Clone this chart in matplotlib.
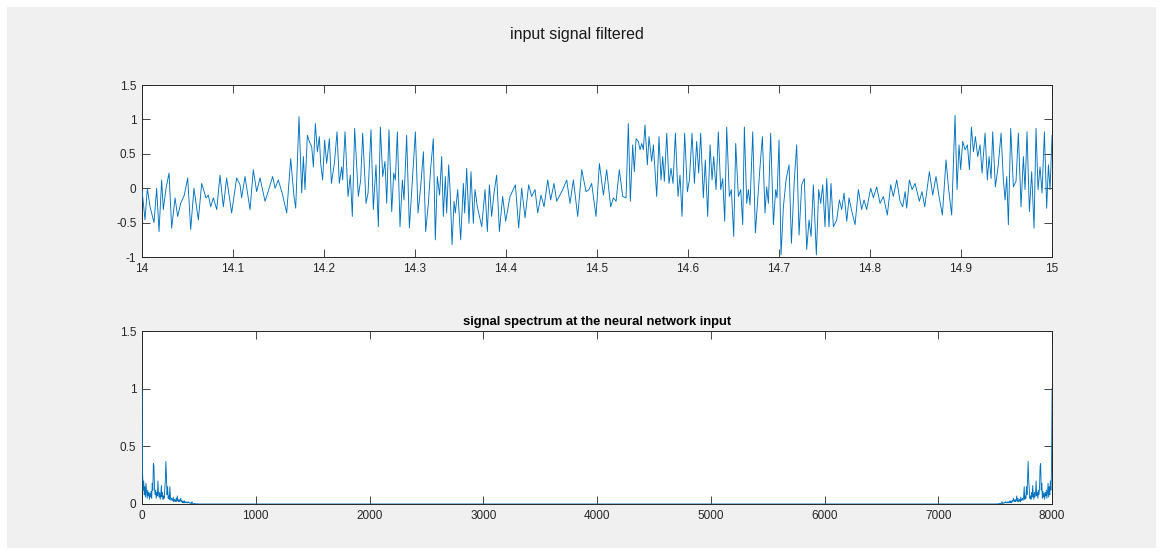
import numpy as np
import matplotlib
matplotlib.use("Agg")
import matplotlib.pyplot as plt
from matplotlib.patches import Rectangle

plt.rcParams["font.family"] = ["Liberation Sans", "DejaVu Sans"]

BLUE = "#0072BD"
AXIS_GRAY = "#262626"

# filtered input signal (seconds after t=14, amplitude)
sig_t = [
    0.0000, 0.0033, 0.0059, 0.0088, 0.0132, 0.0161, 0.0187, 0.0216, 0.0234, 0.0264,
    0.0297, 0.0326, 0.0363, 0.0392, 0.0425, 0.0465, 0.0502, 0.0535, 0.0571, 0.0619,
    0.0656, 0.0703, 0.0729, 0.0755, 0.0784, 0.0821, 0.0857, 0.0894, 0.0930, 0.0985,
    0.1040, 0.1077, 0.1095, 0.1132, 0.1187, 0.1223, 0.1260, 0.1297, 0.1352, 0.1381,
    0.1436, 0.1462, 0.1498, 0.1546, 0.1590, 0.1634, 0.1670, 0.1689, 0.1725, 0.1755,
    0.1773, 0.1791, 0.1817, 0.1839, 0.1865, 0.1883, 0.1905, 0.1927, 0.1949, 0.1963,
    0.1985, 0.2007, 0.2029, 0.2059, 0.2081, 0.2114, 0.2143, 0.2168, 0.2194, 0.2205,
    0.2231, 0.2264, 0.2289, 0.2311, 0.2337, 0.2377, 0.2403, 0.2425, 0.2462, 0.2484,
    0.2516, 0.2542, 0.2571, 0.2597, 0.2619, 0.2645, 0.2670, 0.2689, 0.2714, 0.2744,
    0.2766, 0.2784, 0.2806, 0.2835, 0.2861, 0.2879, 0.2908, 0.2938, 0.2974, 0.3004,
    0.3033, 0.3062, 0.3092, 0.3117, 0.3147, 0.3172, 0.3201, 0.3223, 0.3245, 0.3270,
    0.3293, 0.3311, 0.3333, 0.3348, 0.3370, 0.3385, 0.3407, 0.3429, 0.3443, 0.3469,
    0.3502, 0.3531, 0.3546, 0.3568, 0.3593, 0.3615, 0.3641, 0.3659, 0.3685, 0.3733,
    0.3769, 0.3795, 0.3817, 0.3842, 0.3868, 0.3897, 0.3927, 0.3963, 0.3996, 0.4044,
    0.4103, 0.4139, 0.4172, 0.4209, 0.4249, 0.4282, 0.4319, 0.4348, 0.4385, 0.4418,
    0.4458, 0.4491, 0.4527, 0.4557, 0.4623, 0.4667, 0.4703, 0.4740, 0.4788, 0.4832,
    0.4879, 0.4912, 0.4941, 0.4989, 0.5026, 0.5070, 0.5106, 0.5150, 0.5179, 0.5209,
    0.5245, 0.5282, 0.5319, 0.5344, 0.5366, 0.5392, 0.5410, 0.5429, 0.5454, 0.5473,
    0.5491, 0.5509, 0.5527, 0.5553, 0.5571, 0.5601, 0.5619, 0.5656, 0.5681, 0.5703,
    0.5722, 0.5740, 0.5766, 0.5791, 0.5813, 0.5835, 0.5861, 0.5890, 0.5912, 0.5934,
    0.5963, 0.5993, 0.6015, 0.6044, 0.6070, 0.6095, 0.6117, 0.6139, 0.6168, 0.6190,
    0.6216, 0.6242, 0.6264, 0.6282, 0.6308, 0.6333, 0.6359, 0.6381, 0.6403, 0.6425,
    0.6454, 0.6476, 0.6502, 0.6524, 0.6553, 0.6579, 0.6601, 0.6619, 0.6645, 0.6663,
    0.6681, 0.6711, 0.6740, 0.6773, 0.6791, 0.6817, 0.6846, 0.6864, 0.6883, 0.6908,
    0.6938, 0.6963, 0.6978, 0.7000, 0.7022, 0.7048, 0.7077, 0.7110, 0.7136, 0.7168,
    0.7194, 0.7220, 0.7249, 0.7278, 0.7304, 0.7330, 0.7352, 0.7377, 0.7410, 0.7436,
    0.7458, 0.7480, 0.7505, 0.7524, 0.7549, 0.7571, 0.7597, 0.7634, 0.7663, 0.7689,
    0.7714, 0.7744, 0.7769, 0.7795, 0.7835, 0.7872, 0.7908, 0.7934, 0.7963, 0.8007,
    0.8037, 0.8073, 0.8110, 0.8147, 0.8190, 0.8227, 0.8256, 0.8293, 0.8330, 0.8359,
    0.8385, 0.8403, 0.8432, 0.8462, 0.8495, 0.8542, 0.8571, 0.8601, 0.8652, 0.8689,
    0.8725, 0.8758, 0.8795, 0.8835, 0.8864, 0.8897, 0.8934, 0.8956, 0.8978, 0.8996,
    0.9018, 0.9044, 0.9070, 0.9092, 0.9114, 0.9136, 0.9158, 0.9183, 0.9209, 0.9231,
    0.9264, 0.9289, 0.9308, 0.9330, 0.9348, 0.9377, 0.9407, 0.9440, 0.9465, 0.9484,
    0.9502, 0.9520, 0.9546, 0.9575, 0.9604, 0.9630, 0.9659, 0.9685, 0.9703, 0.9725,
    0.9751, 0.9776, 0.9802, 0.9824, 0.9846, 0.9868, 0.9890, 0.9916, 0.9941, 0.9960,
    0.9978, 1.0000,
]
sig_v = [
    -0.02, -0.46, 0.00, -0.27, -0.50, 0.00, -0.63, 0.12, -0.31, 0.00,
    0.22, -0.58, -0.14, -0.41, -0.22, -0.10, 0.15, -0.60, 0.00, -0.46,
    0.07, -0.14, -0.10, -0.27, -0.14, -0.31, 0.19, -0.27, 0.15, -0.36,
    0.15, 0.05, -0.14, 0.17, -0.31, 0.27, -0.05, 0.15, -0.19, -0.07,
    0.17, 0.00, 0.12, -0.10, -0.36, 0.43, -0.12, -0.29, 1.04, -0.07,
    0.46, -0.02, 0.77, 0.68, 0.60, 0.31, 0.94, 0.53, 0.75, 0.36,
    0.12, 0.70, 0.36, 0.72, 0.07, 0.36, 0.82, 0.07, 0.31, 0.12,
    0.82, -0.12, 0.19, -0.41, 0.87, -0.12, 0.12, 0.80, -0.22, -0.07,
    0.85, -0.31, 0.34, -0.56, 0.89, 0.17, 0.39, -0.22, 0.85, -0.34,
    0.22, 0.12, 0.82, -0.56, 0.12, -0.17, 0.77, -0.58, 0.17, 0.82,
    -0.36, 0.02, 0.53, -0.63, -0.22, 0.29, 0.72, -0.75, 0.17, -0.10,
    0.46, -0.41, 0.17, -0.36, 0.34, -0.02, -0.82, -0.19, -0.36, -0.02,
    -0.75, 0.07, -0.36, 0.29, -0.51, 0.24, -0.51, -0.02, -0.27, -0.56,
    -0.02, -0.63, 0.05, -0.41, -0.07, 0.19, -0.63, -0.12, -0.48, -0.12,
    0.05, -0.58, 0.00, -0.43, 0.05, -0.12, -0.02, -0.36, -0.10, -0.27,
    0.12, -0.17, 0.07, -0.19, -0.02, 0.12, -0.22, 0.12, -0.41, 0.27,
    -0.05, -0.02, 0.07, -0.41, 0.36, -0.10, 0.27, -0.27, -0.14, -0.19,
    0.27, -0.12, -0.14, 0.94, -0.19, 0.63, 0.24, 0.72, 0.68, 0.56,
    0.65, 0.56, 0.92, 0.34, 0.75, 0.39, 0.63, -0.12, 0.75, 0.12,
    0.46, 0.10, 0.80, 0.07, 0.29, 0.07, 0.80, -0.12, 0.19, -0.41,
    0.80, -0.05, 0.12, 0.80, 0.07, 0.68, 0.22, 0.80, -0.14, 0.41,
    -0.41, 0.63, 0.12, 0.46, -0.02, 0.82, -0.02, 0.14, -0.48, 0.89,
    -0.12, -0.02, -0.70, 0.65, -0.12, -0.02, -0.53, 0.89, -0.22, -0.02,
    -0.24, 0.82, -0.65, -0.02, 0.31, 0.75, -0.36, 0.02, -0.22, 0.80,
    -0.53, -0.02, -0.14, 0.70, -0.97, -0.27, 0.12, 0.34, -0.80, 0.12,
    0.63, -0.68, 0.05, 0.14, -0.89, -0.46, -0.70, 0.05, -0.97, -0.02,
    -0.22, 0.05, -0.56, 0.14, -0.56, 0.07, -0.56, -0.46, -0.17, -0.31,
    -0.07, -0.48, -0.14, -0.31, -0.53, -0.02, -0.31, -0.17, -0.31, 0.00,
    -0.14, 0.02, -0.22, -0.12, -0.39, 0.05, -0.12, 0.12, -0.19, -0.27,
    -0.05, -0.29, 0.12, -0.02, 0.07, -0.19, -0.05, -0.27, 0.24, -0.10,
    0.17, -0.12, -0.39, 0.41, -0.02, -0.39, 1.06, -0.02, 0.63, 0.27,
    0.68, 0.56, 0.63, 0.27, 0.89, 0.53, 0.75, 0.46, 0.63, 0.22,
    0.80, 0.12, 0.46, 0.14, 0.82, 0.02, 0.31, 0.80, 0.12, -0.17,
    0.17, -0.53, 0.87, 0.02, 0.10, 0.80, -0.27, 0.46, -0.02, 0.82,
    -0.34, 0.24, -0.58, 0.87, -0.02, 0.31, -0.07, 0.82, -0.29, 0.34,
    -0.02, 0.77,
]
t_start = 14.0

# spectrum magnitude, low band (Hz, value); the upper band mirrors it
spec_low_f = list(range(0, 475, 5))
spec_low_v = [
    1.00, 0.28, 0.12, 0.20, 0.08, 0.15, 0.06, 0.18, 0.10, 0.05,
    0.12, 0.07, 0.10, 0.04, 0.09, 0.06, 0.11, 0.05, 0.18, 0.12,
    0.35, 0.33, 0.14, 0.08, 0.12, 0.05, 0.10, 0.07, 0.20, 0.09,
    0.06, 0.10, 0.04, 0.08, 0.16, 0.06, 0.10, 0.04, 0.07, 0.05,
    0.12, 0.20, 0.37, 0.24, 0.08, 0.15, 0.05, 0.07, 0.04, 0.15,
    0.06, 0.03, 0.05, 0.04, 0.03, 0.06, 0.02, 0.04, 0.03, 0.02,
    0.05, 0.02, 0.07, 0.03, 0.02, 0.04, 0.02, 0.03, 0.05, 0.02,
    0.03, 0.01, 0.02, 0.01, 0.03, 0.01, 0.02, 0.01, 0.01, 0.02,
    0.01, 0.01, 0.02, 0.01, 0.01, 0.005, 0.01, 0.005, 0.02, 0.005,
    0.005, 0.003, 0.005, 0.002, 0.002,
]
fs = 8000

top_yticks = [-1, -0.5, 0, 0.5, 1, 1.5]
top_xticks = [14, 14.1, 14.2, 14.3, 14.4, 14.5, 14.6, 14.7, 14.8, 14.9, 15]
bot_yticks = [0, 0.5, 1, 1.5]
bot_xticks = [0, 1000, 2000, 3000, 4000, 5000, 6000, 7000, 8000]


def style_axes(ax):
    ax.set_facecolor("white")
    for side in ax.spines.values():
        side.set_color(AXIS_GRAY)
        side.set_linewidth(0.7)
    ax.tick_params(direction="in", top=True, right=True, length=6, width=0.6,
                   colors=AXIS_GRAY, labelsize=8.5, pad=4)


def fmt(v):
    return f"{v:g}"


fig = plt.figure(figsize=(11.63, 5.55), dpi=100, facecolor="white")
# gray window panel behind the axes
fig.patches.append(Rectangle((7 / 1163, 7 / 555), 1149 / 1163, 541 / 555,
                             transform=fig.transFigure, facecolor="#f0f0f0",
                             edgecolor="none", zorder=-10))

ax1 = fig.add_axes([0.1221, 0.5369, 0.7825, 0.3099])
ax1.plot(t_start + np.array(sig_t), sig_v, color=BLUE, linewidth=0.65, zorder=3)
ax1.set_xlim(14, 15)
ax1.set_ylim(-1, 1.5)
ax1.set_xticks(top_xticks)
ax1.set_xticklabels([fmt(v) for v in top_xticks])
ax1.set_yticks(top_yticks)
ax1.set_yticklabels([fmt(v) for v in top_yticks])
style_axes(ax1)

low_f = np.array(spec_low_f, dtype=float)
low_v = np.array(spec_low_v)
spec_f = np.concatenate([low_f, [500, fs - 500], fs - low_f[::-1]])
spec_v = np.concatenate([low_v, [0, 0], low_v[::-1]])

ax2 = fig.add_axes([0.1221, 0.0919, 0.7825, 0.3117])
ax2.plot(spec_f, spec_v, color=BLUE, linewidth=0.65, zorder=3)
ax2.set_xlim(0, 8000)
ax2.set_ylim(0, 1.5)
ax2.set_xticks(bot_xticks)
ax2.set_xticklabels([fmt(v) for v in bot_xticks])
ax2.set_yticks(bot_yticks)
ax2.set_yticklabels([fmt(v) for v in bot_yticks])
ax2.set_title("signal spectrum at the neural network input", fontsize=9.4,
              fontweight="bold", pad=4, color="black")
style_axes(ax2)

fig.text(0.496, 0.937, "input signal filtered", ha="center", va="center",
         fontsize=11.5, color="#1a1a1a")

fig.savefig("out.png", dpi=100, facecolor=fig.get_facecolor())
